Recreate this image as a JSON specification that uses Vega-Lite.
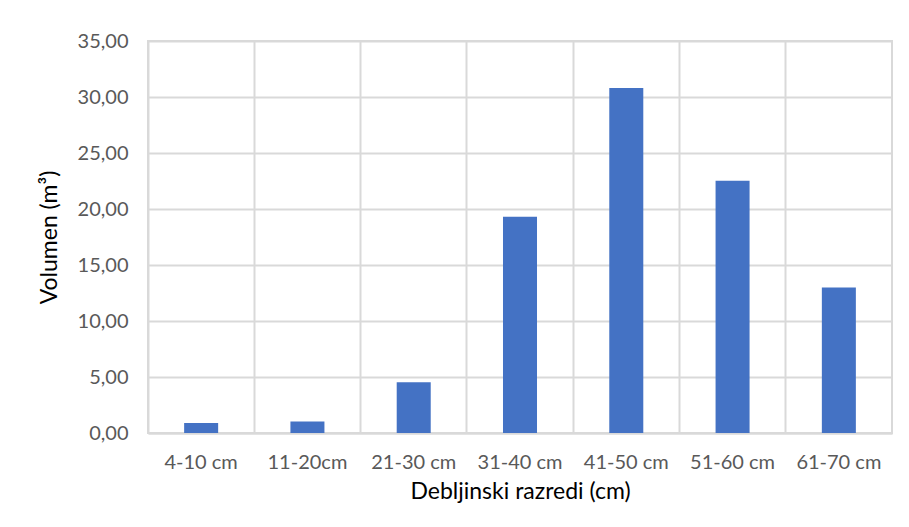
{
  "$schema": "https://vega.github.io/schema/vega-lite/v6.json",
  "autosize": "none",
  "width": 744,
  "height": 392,
  "padding": {"left": 148, "top": 41, "right": 17, "bottom": 94},
  "background": "white",
  "config": {
    "locale": {"number": {"decimal": ",", "thousands": ".", "grouping": [3], "currency": ["", " €"]}},
    "view": {"stroke": "#d9d9d9", "strokeWidth": 2},
    "font": "Lato"
  },
  "data": {
    "values": [
      {"razred": "4-10 cm", "volumen": 0.89},
      {"razred": "11-20cm", "volumen": 1.02},
      {"razred": "21-30 cm", "volumen": 4.53},
      {"razred": "31-40 cm", "volumen": 19.31},
      {"razred": "41-50 cm", "volumen": 30.8},
      {"razred": "51-60 cm", "volumen": 22.53},
      {"razred": "61-70 cm", "volumen": 13.0}
    ]
  },
  "mark": {"type": "bar", "color": "#4472c4", "width": {"band": 0.32}},
  "encoding": {
    "x": {
      "field": "razred",
      "type": "nominal",
      "sort": null,
      "scale": {"paddingInner": 0, "paddingOuter": 0},
      "axis": {
        "title": "Debljinski razredi (cm)",
        "labelAngle": 0,
        "bandPosition": 0,
        "ticks": false,
        "grid": true,
        "gridColor": "#d9d9d9",
        "gridWidth": 2,
        "domainColor": "#d9d9d9",
        "domainWidth": 2,
        "labelFont": "Lato",
        "labelFontSize": 20,
        "labelColor": "#595959",
        "labelPadding": 19,
        "titleFont": "Lato",
        "titleFontSize": 23,
        "titleFontWeight": "normal",
        "titleColor": "#000000",
        "titlePadding": 8
      }
    },
    "y": {
      "field": "volumen",
      "type": "quantitative",
      "scale": {"domain": [0, 35], "nice": false},
      "axis": {
        "title": "Volumen (m³)",
        "values": [0, 5, 10, 15, 20, 25, 30, 35],
        "format": ".2f",
        "ticks": false,
        "domain": false,
        "grid": true,
        "gridColor": "#d9d9d9",
        "gridWidth": 2,
        "labelFont": "Lato",
        "labelFontSize": 20,
        "labelColor": "#595959",
        "labelPadding": 20,
        "titleFont": "Lato",
        "titleFontSize": 23,
        "titleFontWeight": "normal",
        "titleColor": "#000000",
        "titlePadding": 16
      }
    }
  }
}
